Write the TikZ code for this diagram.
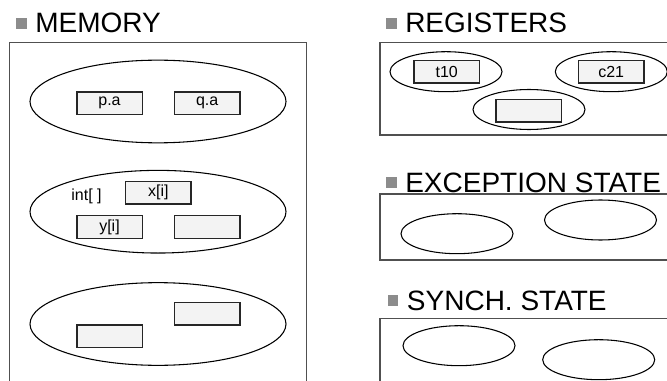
\documentclass[tikz,border=0pt]{standalone}
\usepackage{fontspec}
\setmainfont{Liberation Sans}
\usetikzlibrary{shapes.geometric,positioning}
\definecolor{cellfill}{HTML}{F3F3F3}
\definecolor{framegray}{HTML}{505050}
\definecolor{bulletgray}{HTML}{8C8C8C}
\tikzset{
  title/.style={anchor=base west,inner sep=0pt,font=\fontsize{21}{24}\selectfont},
  bullet/.style={rectangle,fill=bulletgray,minimum size=8pt,inner sep=0pt},
  frame/.style={draw=framegray,line width=0.8pt},
  region/.style={ellipse,draw,line width=0.8pt,inner sep=0pt},
  bigregion/.style={region,minimum width=192pt,minimum height=62pt},
  smallregion/.style={region,minimum width=84pt,minimum height=30pt},
  cell/.style={rectangle,draw=black!85,fill=cellfill,line width=1pt,inner sep=0pt,
    minimum width=49pt,minimum height=17pt,font=\fontsize{12}{14}\selectfont}
}
\begin{document}
\begin{tikzpicture}[x=0.75pt,y=-0.75pt]
\useasboundingbox (0,0) rectangle (667,381);
\clip (0,0) rectangle (667,381);

\foreach \name/\x/\y/\txt in {mem/35/33/MEMORY, reg/405/33/REGISTERS, exc/405/192/EXCEPTION STATE, syn/406.7/310/SYNCH. STATE} {
  \node[title] (\name) at (\x,\y) {\txt};
  \node[bullet,left=6pt of \name] (\name-b) {};
}

\draw[frame] (9.3,42.3) rectangle (306.7,395);
\draw[frame] (380,42.3) rectangle (700,135);
\draw[frame] (380,194) rectangle (700,260);
\draw[frame] (380,318.3) rectangle (700,400);

\node[bigregion] (heap1) at (158,101.5) {};
\node[bigregion] (heap2) at (158,211.7) {};
\node[bigregion] (heap3) at (158,324) {};
\node[cell] (pa) at (109.5,103.3) {\raisebox{2pt}{p.a}};
\node[cell] (qa) at (207.2,103.3) {\raisebox{-2pt}{q.a}};
\node[cell] (xi) at (158.3,192.5) {x[i]};
\node[inner sep=0pt,font=\fontsize{12}{14}\selectfont] (arr) at (86.5,196) {int[ ]};
\node[cell] (yi) at (109.5,227) {y[i]};
\node[cell] (h2b) at (207.2,227) {};
\node[cell] (h3a) at (207.2,313.5) {};
\node[cell] (h3b) at (109.5,336.3) {};

\node[smallregion] (r1) at (446,71.7) {};
\node[smallregion] (r2) at (611.3,71.7) {};
\node[smallregion] (r3) at (529,109.5) {};
\node[cell] (t10) at (446.7,71.7) {t10};
\node[cell] (c21) at (611.2,71.7) {c21};
\node[cell] (r3b) at (528.8,110.7) {};

\node[smallregion] (e1) at (457,233.7) {};
\node[smallregion] (e2) at (600.5,220) {};

\node[smallregion] (s1) at (459,345.7) {};
\node[smallregion] (s2) at (598.7,359.7) {};
\end{tikzpicture}
\end{document}
